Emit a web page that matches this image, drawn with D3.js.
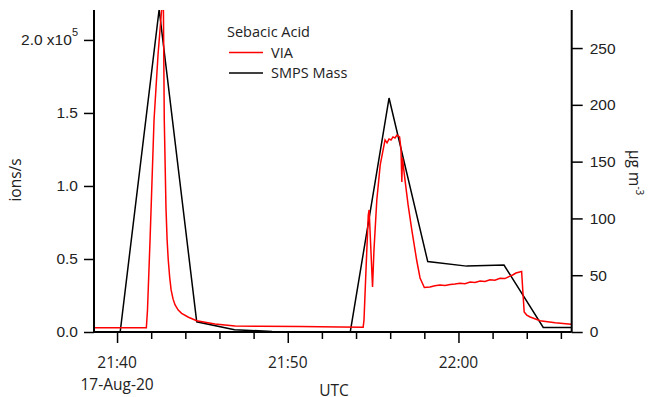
<!DOCTYPE html>
<html>
<head>
<meta charset="utf-8">
<script src="https://cdn.jsdelivr.net/npm/d3@7"></script>
<style>
  body { margin: 0; background: #fff; }
  svg { font-family: "Open Sans", "Noto Sans", sans-serif; }
</style>
</head>
<body>
<svg id="chart" width="651" height="397"></svg>
<script>
// VIA signal (ions/s), left axis
var viaTime = ["21:38:30","21:41:43","21:41:47","21:41:56","21:42:10","21:42:24","21:42:38","21:42:41",
  "21:42:43","21:42:46","21:42:52","21:42:56","21:43:00","21:43:05","21:43:10","21:43:17","21:43:24",
  "21:43:35","21:43:47","21:44:11","21:44:40",
  "21:45:44","21:46:55","21:48:23","21:50:43","21:53:04","21:54:25","21:54:28","21:54:35","21:54:43",
  "21:54:46","21:54:58","21:55:03","21:55:13","21:55:25","21:55:42","21:55:49","21:55:56","21:56:03",
  "21:56:10","21:56:17","21:56:24","21:56:33","21:56:38","21:56:41","21:56:43","21:56:52","21:57:03",
  "21:57:16","21:57:33","21:57:45","21:58:00","21:58:20","21:58:37","21:58:55","21:59:13","21:59:31",
  "21:59:48","22:00:05","22:00:23","22:00:41","22:00:58","22:01:16","22:01:33","22:01:51","22:02:08",
  "22:02:26","22:02:43","22:03:01","22:03:12","22:03:22","22:03:32","22:03:42","22:03:46","22:03:51",
  "22:04:00","22:04:12","22:04:47","22:05:40","22:06:36","22:07:00"];
var viaValue = [2900,2900,15100,63000,145200,189700,224000,230000,
  220500,145200,85000,63000,49300,37500,28800,22500,18500,
  15000,12800,10100,7700,
  5500,4100,3900,3700,3400,3300,8200,42500,80000,
  83600,30800,56000,90400,114400,131500,129500,132200,131500,
  133600,132900,134900,133600,125300,102700,119200,104200,87000,
  69900,49300,37000,30500,30800,31600,32200,31800,32600,
  32900,33400,33100,34200,33900,34900,34600,35800,35500,
  36800,36600,38300,39200,40400,40900,41400,28800,13700,
  11600,10300,7700,6400,5300,5200];

// SMPS mass (ug m-3), right axis
var smpsTime = ["21:37:58","21:40:11","21:42:28","21:44:40","21:46:53","21:49:05","21:51:18","21:53:40",
  "21:55:56","21:58:12","22:00:29","22:02:40","22:04:58","22:07:10"];
var smpsValue = [0,0,284,9,2,0.5,0.3,0.5,206,62,58,59,4,4];

var leftTicks = [0, 50000, 100000, 150000, 200000];
var leftLabels = ["0.0", "0.5", "1.0", "1.5", "2.0"];
var rightTicks = [0, 50, 100, 150, 200, 250];
var xMajorLabels = ["21:40", "21:50", "22:00"];
var dateLabel = "17-Aug-20";
var seriesNames = ["VIA", "SMPS Mass"];
var legendTitle = "Sebacic Acid";

var parseT = d3.timeParse("%H:%M:%S");
var pLeft = 94, pRight = 571.7, pTop = 10, pBottom = 332;

var x = d3.scaleTime().domain([parseT("21:38:39"), parseT("22:06:38")]).range([pLeft, pRight]);
var yL = d3.scaleLinear().domain([0, 220500]).range([pBottom, pTop]);
var yR = d3.scaleLinear().domain([0, 283.5]).range([pBottom, pTop]);

var svg = d3.select("#chart");

svg.append("clipPath").attr("id", "plotclip")
  .append("rect").attr("x", pLeft).attr("y", pTop).attr("width", pRight - pLeft).attr("height", pBottom - pTop);

var via = viaTime.map(function(t, i) { return {t: parseT(t), v: viaValue[i]}; });
var smps = smpsTime.map(function(t, i) { return {t: parseT(t), v: smpsValue[i]}; });

var plot = svg.append("g").attr("clip-path", "url(#plotclip)");

plot.append("path").datum(smps)
  .attr("fill", "none").attr("stroke", "#000").attr("stroke-width", 1.5)
  .attr("d", d3.line().x(function(d) { return x(d.t); }).y(function(d) { return yR(d.v); }));

plot.append("path").datum(via)
  .attr("fill", "none").attr("stroke", "#f00").attr("stroke-width", 1.5)
  .attr("d", d3.line().x(function(d) { return x(d.t); }).y(function(d) { return yL(d.v); }));

// axes
var xTicks = d3.timeMinute.every(2).range(parseT("21:40:00"), parseT("22:07:00"));
var gx = svg.append("g").attr("transform", "translate(0," + pBottom + ")")
  .call(d3.axisBottom(x).tickValues(xTicks).tickSize(7).tickFormat(""));
gx.selectAll(".tick line").attr("stroke-width", 1.5)
  .attr("y2", function(d) { return d.getMinutes() % 10 === 0 ? 11 : 7; });
gx.select(".domain").attr("stroke-width", 2).attr("d", "M" + pLeft + ",0H" + pRight);

var majors = xMajorLabels.map(function(s) { return parseT(s + ":00"); });
svg.selectAll(".xlab").data(majors).enter().append("text")
  .attr("x", function(d) { return x(d); }).attr("y", 368)
  .attr("text-anchor", "middle").attr("font-size", 15.5).attr("fill", "#222")
  .text(function(d, i) { return xMajorLabels[i]; });
svg.append("text").attr("x", x(majors[0])).attr("y", 390)
  .attr("text-anchor", "middle").attr("font-size", 15.5).attr("fill", "#222").text(dateLabel);
svg.append("text").attr("x", 334).attr("y", 396)
  .attr("text-anchor", "middle").attr("font-size", 15.5).attr("fill", "#222").text("UTC");

var gl = svg.append("g").attr("transform", "translate(" + pLeft + ",0)")
  .call(d3.axisLeft(yL).tickValues(leftTicks).tickSize(10).tickPadding(6)
    .tickFormat(function(d, i) { return leftLabels[i]; }));
gl.select(".domain").attr("stroke-width", 2).attr("d", "M0," + pTop + "V" + pBottom);
gl.selectAll(".tick line").attr("stroke-width", 1.5);
gl.selectAll(".tick text").attr("font-size", 15.5).attr("fill", "#222").attr("font-family", null);
gl.selectAll(".tick text").filter(function(d) { return d === 200000; })
  .text(null)
  .call(function(t) {
    t.append("tspan").text("2.0 x10");
    t.append("tspan").attr("dy", -9).attr("font-size", 11).text("5");
  });

var gr = svg.append("g").attr("transform", "translate(" + pRight + ",0)")
  .call(d3.axisRight(yR).tickValues(rightTicks).tickSize(11).tickPadding(7));
gr.select(".domain").attr("stroke-width", 2).attr("d", "M0," + pTop + "V" + pBottom);
gr.selectAll(".tick line").attr("stroke-width", 1.5);
gr.selectAll(".tick text").attr("font-size", 15.5).attr("fill", "#222").attr("font-family", null);

// axis titles
svg.append("text").attr("transform", "translate(21,180) rotate(-90)")
  .attr("text-anchor", "middle").attr("font-size", 15.5).attr("fill", "#222").text("ions/s");
var rt = svg.append("text").attr("transform", "translate(629,150) rotate(90)")
  .attr("font-size", 15.5).attr("fill", "#222");
rt.append("tspan").text("\u03bcg m");
rt.append("tspan").attr("dy", -7).attr("font-size", 10).text("-3");

// legend
svg.append("text").attr("x", 227).attr("y", 37).attr("font-size", 14.5).attr("fill", "#222").text(legendTitle);
var legColors = ["#f00", "#000"];
seriesNames.forEach(function(name, i) {
  var ly = 52.5 + i * 20.5;
  svg.append("line").attr("x1", 229).attr("x2", 263).attr("y1", ly).attr("y2", ly)
    .attr("stroke", legColors[i]).attr("stroke-width", 1.5);
  svg.append("text").attr("x", 271).attr("y", ly + 5).attr("font-size", 14.5).attr("fill", "#222").text(name);
});
</script>
</body>
</html>
